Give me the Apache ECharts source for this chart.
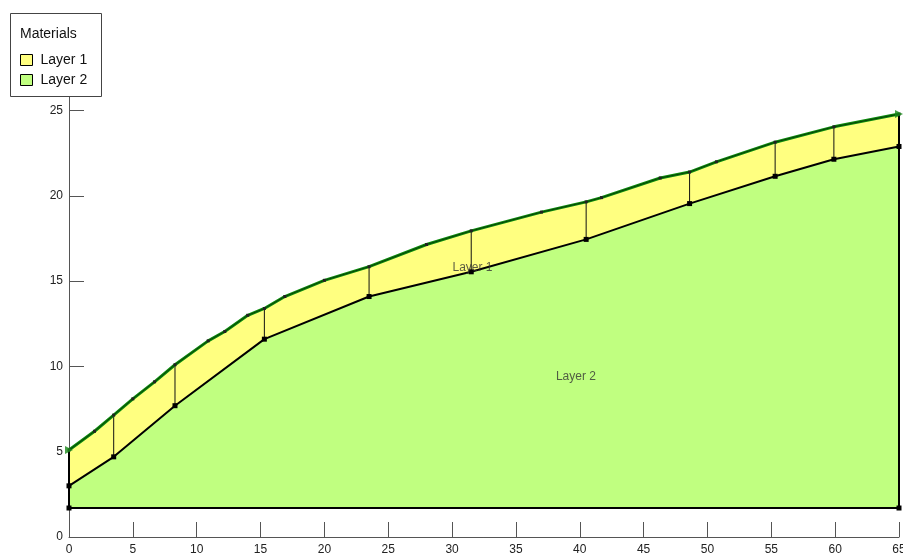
<!DOCTYPE html>
<html>
<head>
<meta charset="utf-8">
<script src="https://cdn.jsdelivr.net/npm/echarts@6/dist/echarts.min.js"></script>
<style>
  html, body { margin: 0; padding: 0; background: #fff; }
  #chart { width: 903px; height: 559px; }
</style>
</head>
<body>
<div id="chart"></div>
<script>
// Material boundaries of the slope section (x = distance, y = elevation)
const layer1Top = [
  [0, 5.1], [2.0, 6.2], [3.5, 7.15], [5.0, 8.1], [6.7, 9.1], [8.3, 10.1],
  [10.9, 11.5], [12.2, 12.05], [14.0, 13.0], [15.3, 13.4], [16.9, 14.1],
  [20.0, 15.05], [23.5, 15.85], [28.0, 17.15], [31.5, 17.95], [37.0, 19.05],
  [40.5, 19.65], [41.7, 19.9], [46.3, 21.05], [48.6, 21.4], [50.7, 22.0],
  [55.3, 23.15], [59.9, 24.05], [65, 24.8]
];
const layer2Top = [
  [0, 3.0], [3.5, 4.7], [8.3, 7.7], [15.3, 11.6], [23.5, 14.1], [31.5, 15.55],
  [40.5, 17.45], [48.6, 19.55], [55.3, 21.15], [59.9, 22.15], [65, 22.9]
];
const baseLine = [[0, 1.7], [65, 1.7]];
const baseElevation = 1.7;

// Vertical divisions between the two layer boundaries
const sliceX = [3.5, 8.3, 15.3, 23.5, 31.5, 40.5, 48.6, 55.3, 59.9];
const sliceBottom = [4.7, 7.7, 11.6, 14.1, 15.55, 17.45, 19.55, 21.15, 22.15];
const sliceTop = [7.15, 10.1, 13.4, 15.85, 17.95, 19.65, 21.4, 23.15, 24.05];

// Outer boundary edges at both ends of the section
const leftEdge = [[0, 1.7], [0, 5.1]];
const rightEdge = [[65, 1.7], [65, 24.8]];

// Region labels
const regionNames = ['Layer 1', 'Layer 2'];
const regionLabelPos = [[31.6, 15.8], [39.7, 9.4]];

const xTicks = [0, 5, 10, 15, 20, 25, 30, 35, 40, 45, 50, 55, 60, 65];
const yTicks = [0, 5, 10, 15, 20, 25];

const FONT = 'Liberation Sans, Arial, sans-serif';
const AXIS_COLOR = '#555';

const chart = echarts.init(document.getElementById('chart'), null, { renderer: 'canvas' });

const sliceSeriesData = sliceX.map((x, i) => [x, sliceBottom[i], sliceTop[i]]);

chart.setOption({
  animation: false,
  grid: { left: 69, right: 4, top: 97, bottom: 22, containLabel: false, outerBoundsMode: 'none' },
  xAxis: {
    type: 'value', min: 0, max: 65, interval: 5,
    axisLine: { show: true, lineStyle: { color: AXIS_COLOR, width: 1 } },
    axisTick: { show: true, inside: true, length: 15, lineStyle: { color: AXIS_COLOR }, customValues: xTicks },
    axisLabel: { color: '#222', fontFamily: FONT, fontSize: 12, margin: 7, customValues: xTicks },
    splitLine: { show: false }
  },
  yAxis: {
    type: 'value', min: 0, max: 25.8, interval: 5,
    axisLine: { show: true, lineStyle: { color: AXIS_COLOR, width: 1 } },
    axisTick: { show: true, inside: true, length: 15, lineStyle: { color: AXIS_COLOR }, customValues: yTicks },
    axisLabel: { color: '#222', fontFamily: FONT, fontSize: 12, margin: 6, customValues: yTicks },
    splitLine: { show: false }
  },
  legend: {
    data: regionNames,
    orient: 'vertical',
    left: 15, top: 48,
    itemWidth: 12, itemHeight: 11, itemGap: 6,
    icon: 'rect',
    itemStyle: { borderColor: '#000', borderWidth: 1 },
    textStyle: { fontFamily: FONT, fontSize: 14, color: '#111', padding: [0, 0, 0, 3] },
    selectedMode: false,
    z: 20
  },
  graphic: [
    {
      type: 'rect', left: 10, top: 13, z: 15,
      shape: { width: 91, height: 83 },
      style: { fill: '#fff', stroke: '#444', lineWidth: 1 }
    },
    {
      type: 'text', left: 20, top: 27, z: 16,
      style: { text: 'Materials', font: '14px ' + FONT, fill: '#111' }
    }
  ],
  series: [
    {
      name: 'Layer 1', type: 'line', data: layer1Top, z: 1,
      color: '#ffff80',
      showSymbol: false, lineStyle: { width: 0 },
      areaStyle: { color: '#ffff80', opacity: 1, origin: baseElevation }
    },
    {
      name: 'Layer 2', type: 'line', data: layer2Top, z: 2,
      color: '#c0ff80',
      showSymbol: false, lineStyle: { width: 0 },
      areaStyle: { color: '#c0ff80', opacity: 1, origin: baseElevation }
    },
    {
      name: 'slices', type: 'custom', z: 3,
      data: sliceSeriesData,
      renderItem: function (params, api) {
        const p0 = api.coord([api.value(0), api.value(1)]);
        const p1 = api.coord([api.value(0), api.value(2)]);
        return {
          type: 'line',
          shape: { x1: p0[0], y1: p0[1], x2: p1[0], y2: p1[1] },
          style: { stroke: '#111', lineWidth: 1 }
        };
      }
    },
    {
      name: 'base', type: 'line', data: baseLine, z: 4,
      symbol: 'rect', symbolSize: 5, itemStyle: { color: '#000' },
      lineStyle: { color: '#000', width: 2 }
    },
    {
      name: 'leftEdge', type: 'line', data: leftEdge, z: 4,
      showSymbol: false, lineStyle: { color: '#000', width: 2 }
    },
    {
      name: 'rightEdge', type: 'line', data: rightEdge, z: 4,
      showSymbol: false, lineStyle: { color: '#000', width: 2 }
    },
    {
      name: 'layer2Line', type: 'line', data: layer2Top, z: 5,
      symbol: 'rect', symbolSize: 5, itemStyle: { color: '#000' },
      lineStyle: { color: '#000', width: 2 }
    },
    {
      name: 'layer1Outer', type: 'line', data: layer1Top, z: 5,
      showSymbol: false,
      lineStyle: { color: '#0a8a0a', width: 3 }
    },
    {
      name: 'layer1Line', type: 'line', data: layer1Top, z: 6,
      symbol: 'rect', symbolSize: 3, itemStyle: { color: '#222' },
      lineStyle: { color: '#0b3d0b', width: 1 }
    },
    {
      name: 'ends', type: 'scatter', z: 7,
      data: [layer1Top[0], layer1Top[layer1Top.length - 1]],
      symbol: 'triangle', symbolRotate: -90, symbolSize: 8,
      itemStyle: { color: '#1a8a1a' }
    },
    {
      name: 'regionLabels', type: 'scatter', z: 8,
      data: regionLabelPos.map((p, i) => ({ value: p, name: regionNames[i] })),
      symbolSize: 0,
      label: {
        show: true, position: 'inside',
        formatter: function (p) { return p.name; },
        fontFamily: FONT, fontSize: 12, color: '#333'
      }
    }
  ]
});
</script>
</body>
</html>
